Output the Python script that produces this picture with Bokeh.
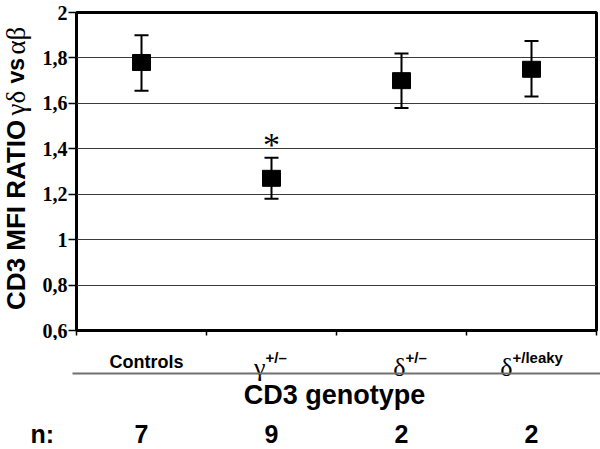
import math
from bokeh.plotting import figure
from bokeh.layouts import column, row
from bokeh.models import (Range1d, FixedTicker, CustomJSTickFormatter, Whisker,
                          ColumnDataSource, TeeHead)
from bokeh.core.properties import value
from bokeh.embed import file_html
from bokeh.resources import INLINE

# ---- data ----
categories = ["Controls", "γ+/–", "δ+/–", "δ+/leaky"]
label_base = ["Controls", "γ", "δ", "δ"]
label_sup = ["", "+/–", "+/–", "+/leaky"]
means = [1.78, 1.27, 1.70, 1.75]
upper = [1.90, 1.36, 1.82, 1.875]
lower = [1.655, 1.18, 1.58, 1.63]
n_counts = ["7", "9", "2", "2"]
significance = ["", "*", "", ""]
y_ticks = [0.6, 0.8, 1.0, 1.2, 1.4, 1.6, 1.8, 2.0]
boundary_ticks = [0, 1, 2, 3, 4]

SANS = "Liberation Sans"
SERIF = "Liberation Serif"

# ---- page geometry (pixels) ----
W, H = 600, 449
FRAME_L, FRAME_R, FRAME_T, FRAME_B = 76, 596, 12, 330
TITLE_W = 34
MAIN_H = 340
NCAT = len(categories)
BAND = (FRAME_R - FRAME_L) / NCAT

xpos = [i + 0.5 for i in range(NCAT)]
src = ColumnDataSource(dict(x=xpos, mean=means, upper=upper, lower=lower, sig=significance))

# ---- main chart ----
p = figure(width=W - TITLE_W, height=MAIN_H, x_range=Range1d(0, NCAT), y_range=Range1d(0.6, 2.0),
           output_backend="svg", toolbar_location=None,
           min_border_left=FRAME_L - TITLE_W, min_border_right=W - FRAME_R,
           min_border_top=FRAME_T, min_border_bottom=MAIN_H - FRAME_B)
p.outline_line_color = "black"
p.outline_line_width = 3
p.outline_line_alpha = 1

p.xgrid.visible = False
p.ygrid.ticker = FixedTicker(ticks=y_ticks)
p.ygrid.grid_line_color = "#3a3a3a"
p.ygrid.grid_line_width = 1

p.yaxis.ticker = FixedTicker(ticks=y_ticks)
p.yaxis.formatter = CustomJSTickFormatter(code="return tick.toFixed(1).replace('.', ',').replace(',0', '');")
p.yaxis.axis_line_color = None
p.yaxis.major_tick_out = 8
p.yaxis.major_tick_in = 0
p.yaxis.major_tick_line_width = 1.5
p.yaxis.minor_tick_line_color = None
p.yaxis.major_label_standoff = 1
p.yaxis.major_label_text_font = SERIF
p.yaxis.major_label_text_font_style = "bold"
p.yaxis.major_label_text_font_size = "20px"
p.yaxis.major_label_text_color = "black"

p.xaxis.ticker = FixedTicker(ticks=boundary_ticks)
p.xaxis.axis_line_color = None
p.xaxis.major_tick_out = 5
p.xaxis.major_tick_in = 0
p.xaxis.major_tick_line_width = 1.5
p.xaxis.minor_tick_line_color = None
p.xaxis.major_label_text_color = None
p.xaxis.major_label_text_font_size = "1px"
p.xaxis.major_label_standoff = 0

head_u = TeeHead(size=14, line_width=2, line_color="black")
head_l = TeeHead(size=14, line_width=2, line_color="black")
p.add_layout(Whisker(base="x", upper="upper", lower="lower", source=src, dimension="height",
                     line_width=2, line_color="black", upper_head=head_u, lower_head=head_l))
p.rect(x="x", y="mean", width=18, height=16, width_units="screen", height_units="screen",
       fill_color="black", line_color="black", source=src)
p.text(x="x", y="upper", text="sig", source=src, text_align="center", text_baseline="alphabetic",
       y_offset=-13, text_font=value(SERIF), text_font_size="34px", text_color="black")

# ---- rotated y-axis title (mixed fonts) ----
t = figure(width=TITLE_W, height=MAIN_H, x_range=Range1d(0, TITLE_W), y_range=Range1d(MAIN_H, 0),
           x_axis_type=None, y_axis_type=None, output_backend="svg", toolbar_location=None,
           min_border=0, outline_line_color=None)
title_txt = ["CD3 MFI RATIO", "γδ", "vs", "αβ"]
title_font = [SANS, SERIF, SANS, SERIF]
title_style = ["bold", "normal", "bold", "normal"]
title_size = ["26px", "27px", "23px", "27px"]
title_start = [318, 110, 76, 45]
for txt, fnt, sty, sz, ys in zip(title_txt, title_font, title_style, title_size, title_start):
    t.text(x=[15], y=[ys], text=[txt], angle=math.pi / 2, text_align="left",
           text_baseline="middle", text_font=value(fnt), text_font_style=sty,
           text_font_size=sz, text_color="black")

# ---- bottom area: category labels, axis title, n ----
bx0 = -FRAME_L / BAND
bx1 = NCAT + (W - FRAME_R) / BAND
b = figure(width=W, height=H - MAIN_H, x_range=Range1d(bx0, bx1), y_range=Range1d(H, MAIN_H),
           x_axis_type=None, y_axis_type=None, output_backend="svg", toolbar_location=None,
           min_border=0, outline_line_color=None)

base_offsets = [5, -6, 4, -19]
sup_x, sup_txt, sup_off = [], [], []
gk_x, gk_txt, gk_off = [], [], []
for i in range(NCAT):
    if label_sup[i]:
        gk_x.append(xpos[i]); gk_txt.append(label_base[i]); gk_off.append(base_offsets[i])
        sup_x.append(xpos[i]); sup_txt.append(label_sup[i]); sup_off.append(base_offsets[i])
    else:
        b.text(x=[xpos[i]], y=[361], text=[label_base[i]], x_offset=base_offsets[i],
               text_align="center", text_baseline="alphabetic", text_font=value(SANS),
               text_font_style="bold", text_font_size="18px", text_color="black")
b.text(x=gk_x, y=[367] * len(gk_x), text=gk_txt, x_offset=gk_off, text_align="right",
       text_baseline="alphabetic", text_font=value(SERIF), text_font_size="26px", text_color="black")
b.text(x=sup_x, y=[357] * len(sup_x), text=sup_txt, x_offset=sup_off, text_align="left",
       text_baseline="alphabetic", text_font=value(SANS), text_font_style="bold",
       text_font_size="15px", text_color="black")

# separator line
b.segment(x0=[(72 - FRAME_L) / BAND], x1=[bx1], y0=[373], y1=[373],
          line_color="#707070", line_width=2)

b.text(x=[(334 - FRAME_L) / BAND], y=[394], text=["CD3 genotype"], text_align="center",
       text_baseline="alphabetic", text_font=value(SANS), text_font_style="bold",
       text_font_size="27px", text_color="black")
b.text(x=xpos, y=[433] * NCAT, text=n_counts, text_align="center", text_baseline="alphabetic",
       text_font=value(SANS), text_font_style="bold", text_font_size="25px", text_color="black")
b.text(x=[(30 - FRAME_L) / BAND], y=[433], text=["n:"], text_align="left",
       text_baseline="alphabetic", text_font=value(SANS), text_font_style="bold",
       text_font_size="25px", text_color="black")

layout = column(row(t, p, spacing=0), b, spacing=0)
open("out.html", "w").write(file_html(layout, INLINE))
